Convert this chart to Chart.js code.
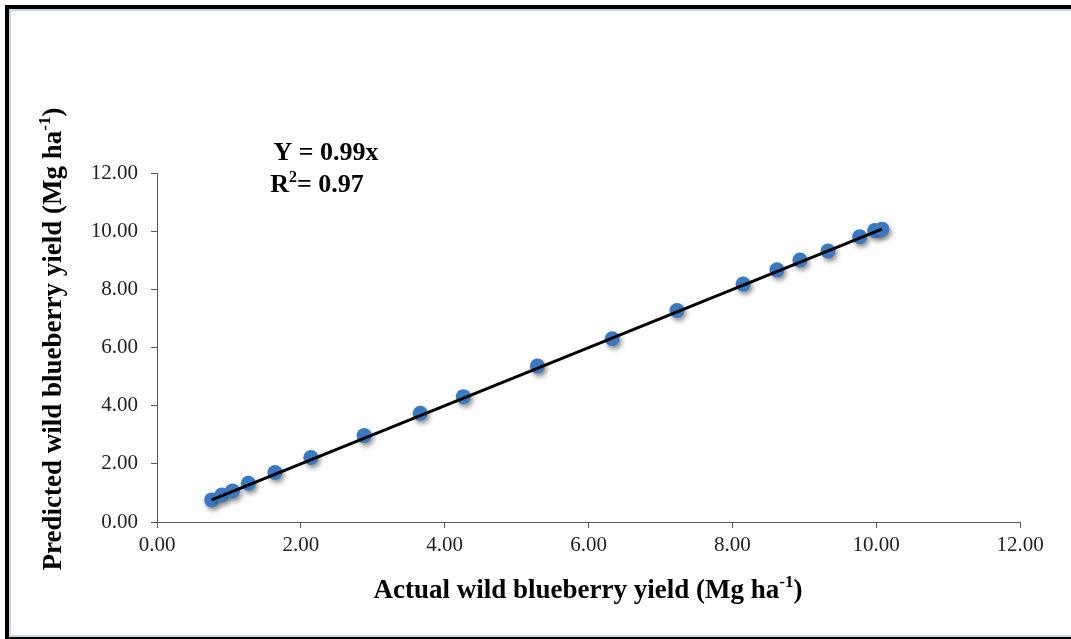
<!DOCTYPE html>
<html>
<head>
<meta charset="utf-8">
<script src="https://cdn.jsdelivr.net/npm/chart.js@4.4.1/dist/chart.umd.min.js"></script>
<style>
  html, body { margin: 0; padding: 0; background: #fff; overflow: hidden; }
  #wrap { position: relative; width: 1071px; height: 639px; }
  #frame {
    position: absolute; left: 5px; top: 5px; width: 1080px; height: 628px;
    border: 4px solid #000; box-shadow: inset 0 0 0 2px #c9d7e8; pointer-events: none;
  }
  canvas { position: absolute; left: 0; top: 0; }
</style>
</head>
<body>
<div id="wrap">
  <canvas id="yieldChart" width="1071" height="639"></canvas>
  <div id="frame"></div>
</div>
<script>
// actual vs predicted yield (Mg ha-1)
const actualYield    = [0.76, 0.90, 1.05, 1.27, 1.64, 2.14, 2.88, 3.66, 4.26, 5.29, 6.33, 7.23, 8.15, 8.62, 8.94, 9.33, 9.77, 9.98, 10.08];
const predictedYield = [0.76, 0.93, 1.07, 1.33, 1.70, 2.22, 2.97, 3.74, 4.31, 5.36, 6.30, 7.27, 8.18, 8.67, 9.01, 9.32, 9.81, 10.02, 10.07];

// trend line end points
const trendX = [0.76, 10.08];
const trendY = [0.76, 10.07];

const axisMin = 0;
const axisMax = 12;
const axisStep = 2;

const eqLine1 = [{ t: 'Y = 0.99x' }];
const eqLine2 = [{ t: 'R' }, { t: '2', sup: true }, { t: '= 0.97' }];
const xTitle = [{ t: 'Actual wild blueberry yield (Mg ha' }, { t: '-1', sup: true }, { t: ')' }];
const yTitle = [{ t: 'Predicted wild blueberry yield (Mg ha' }, { t: '-1', sup: true }, { t: ')' }];

const SERIF = '"Liberation Serif", "Times New Roman", serif';

// draw text with superscript parts, centered at x
function drawRich(ctx, parts, x, y, size) {
    const big = 'bold ' + size + 'px ' + SERIF;
    const small = 'bold ' + Math.round(size * 0.62) + 'px ' + SERIF;
    let total = 0;
    parts.forEach(p => {
        ctx.font = p.sup ? small : big;
        total += ctx.measureText(p.t).width;
    });
    let cx = x - total / 2;
    ctx.textBaseline = 'alphabetic';
    ctx.textAlign = 'left';
    parts.forEach(p => {
        ctx.font = p.sup ? small : big;
        ctx.fillText(p.t, cx, p.sup ? y - size * 0.4 : y);
        cx += ctx.measureText(p.t).width;
    });
}

const textPlugin = {
    id: 'textPlugin',
    afterDraw(chart) {
        const ctx = chart.ctx;
        ctx.save();
        ctx.fillStyle = '#000';
        drawRich(ctx, eqLine1, 326, 160, 26);
        drawRich(ctx, eqLine2, 317, 192, 26);
        drawRich(ctx, xTitle, 588, 598, 27);
        ctx.translate(61, 339);
        ctx.rotate(-Math.PI / 2);
        drawRich(ctx, yTitle, 0, 0, 27);
        ctx.restore();
    }
};

// soft shadow under the blue markers
const shadowPlugin = {
    id: 'shadowPlugin',
    beforeDatasetDraw(chart, args) {
        if (args.index !== 0) return;
        const ctx = chart.ctx;
        ctx.save();
        ctx.shadowColor = 'rgba(0,0,0,0.45)';
        ctx.shadowBlur = 5;
        ctx.shadowOffsetX = 2;
        ctx.shadowOffsetY = 3;
    },
    afterDatasetDraw(chart, args) {
        if (args.index !== 0) return;
        chart.ctx.restore();
    }
};

const ctx = document.getElementById('yieldChart').getContext('2d');
new Chart(ctx, {
    type: 'scatter',
    data: {
        datasets: [
            {
                label: 'Yield',
                data: actualYield.map((x, i) => ({ x: x, y: predictedYield[i] })),
                backgroundColor: '#3a79bf',
                borderColor: '#3a79bf',
                borderWidth: 0,
                pointRadius: 7.5,
                order: 2
            },
            {
                label: 'Trend',
                type: 'line',
                data: trendX.map((x, i) => ({ x: x, y: trendY[i] })),
                borderColor: '#000',
                borderWidth: 3,
                pointRadius: 0,
                fill: false,
                order: 1
            }
        ]
    },
    options: {
        responsive: false,
        animation: false,
        layout: { padding: { left: 0, right: 51, top: 173, bottom: 0 } },
        plugins: {
            legend: { display: false },
            tooltip: { enabled: false }
        },
        scales: {
            x: {
                type: 'linear',
                min: axisMin,
                max: axisMax,
                afterFit: s => { s.height = 117; },
                border: { color: '#595959', width: 1 },
                grid: { drawOnChartArea: false, tickLength: 6, color: '#595959' },
                ticks: {
                    stepSize: axisStep,
                    padding: 5,
                    color: '#222',
                    font: { family: SERIF, size: 21 },
                    callback: v => v.toFixed(2)
                }
            },
            y: {
                min: axisMin,
                max: axisMax,
                afterFit: s => { s.width = 157; },
                border: { color: '#595959', width: 1 },
                grid: { drawOnChartArea: false, tickLength: 6, color: '#595959' },
                ticks: {
                    stepSize: axisStep,
                    padding: 13,
                    color: '#222',
                    font: { family: SERIF, size: 21 },
                    callback: v => v.toFixed(2)
                }
            }
        }
    },
    plugins: [shadowPlugin, textPlugin]
});
</script>
</body>
</html>
